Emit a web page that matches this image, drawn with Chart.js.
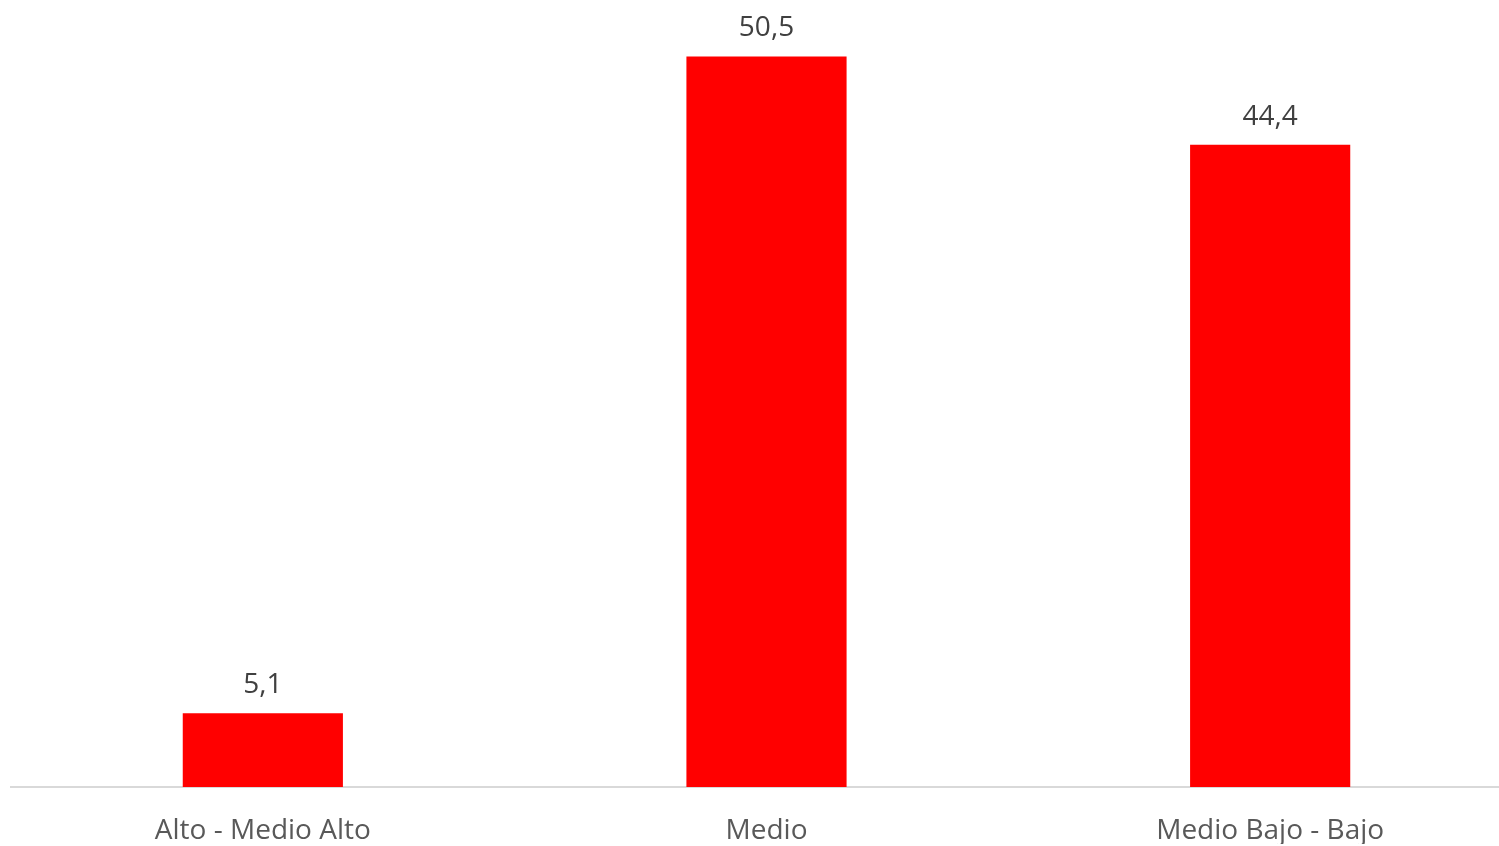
<!DOCTYPE html>
<html>
<head>
<meta charset="utf-8">
<script src="https://cdn.jsdelivr.net/npm/chart.js@4/dist/chart.umd.min.js"></script>
<style>
    html, body { margin: 0; padding: 0; background: #fff; overflow: hidden; }
    #wrap { width: 1522px; height: 846px; }
</style>
</head>
<body>
<div id="wrap"><canvas id="grafico" width="1522" height="846"></canvas></div>
<script>
var categorias = ['Alto - Medio Alto', 'Medio', 'Medio Bajo - Bajo'];
var valores = [5.1, 50.5, 44.4];

function formatearValor(v) {
    return v.toFixed(1).replace('.', ',');
}

// etiquetas encima de cada barra
var etiquetasPlugin = {
    id: 'etiquetas',
    afterDatasetsDraw(chart) {
        var ctx = chart.ctx;
        var meta = chart.getDatasetMeta(0);
        ctx.save();
        ctx.font = '28px "Open Sans"';
        ctx.fillStyle = '#404040';
        ctx.textAlign = 'center';
        ctx.textBaseline = 'bottom';
        meta.data.forEach((bar, i) => {
            ctx.fillText(formatearValor(valores[i]), bar.x, bar.y - 14);
        });
        ctx.restore();
    }
};

var ctx = document.getElementById('grafico').getContext('2d');
new Chart(ctx, {
    type: 'bar',
    data: {
        labels: categorias,
        datasets: [{
            data: valores,
            backgroundColor: '#ff0000',
            borderWidth: 0,
            barPercentage: 0.318,
            categoryPercentage: 1
        }]
    },
    options: {
        responsive: false,
        animation: false,
        layout: { padding: { left: 11, right: 0, top: 0, bottom: 2 } },
        plugins: {
            legend: { display: false },
            tooltip: { enabled: false }
        },
        scales: {
            x: {
                grid: { display: true, drawOnChartArea: false, drawTicks: false },
                border: { display: true, color: '#d9d9d9', width: 2 },
                ticks: {
                    color: '#595959',
                    font: { family: 'Open Sans', size: 28 },
                    padding: 27
                },
                afterFit: function(scale) { scale.height = 57; }
            },
            y: {
                display: false,
                min: 0,
                max: 54.4
            }
        }
    },
    plugins: [etiquetasPlugin]
});
</script>
</body>
</html>
